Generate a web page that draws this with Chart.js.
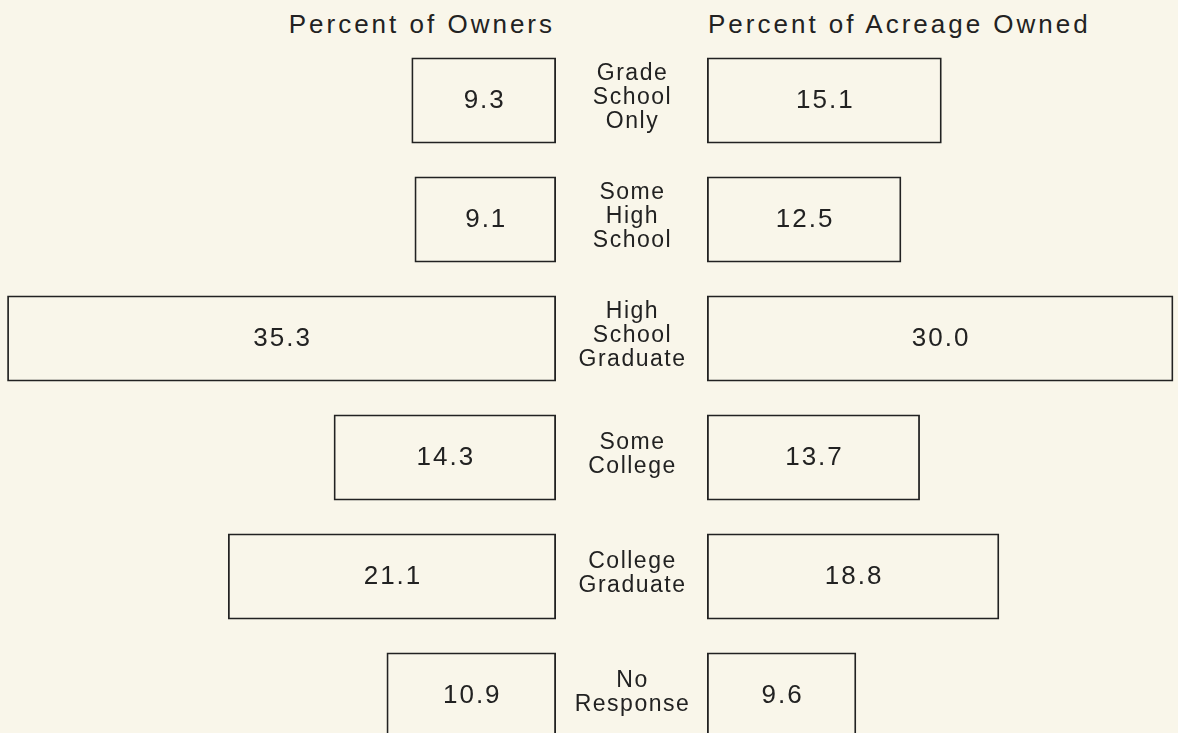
<!DOCTYPE html>
<html>
<head>
<meta charset="utf-8">
<script src="https://cdn.jsdelivr.net/npm/chart.js@4/dist/chart.umd.min.js"></script>
<style>
    html, body { margin: 0; padding: 0; background: #f9f6ea; overflow: hidden; }
    #wrap { position: relative; width: 1178px; height: 733px; font-family: 'Liberation Sans', sans-serif; color: #222; }
    .head { position: absolute; top: 8px; font-size: 26px; line-height: 32px; white-space: nowrap; letter-spacing: 3px; }
    #leftBox { position: absolute; left: 0; top: 0; width: 556px; height: 760px; }
    #rightBox { position: absolute; left: 556px; top: 0; width: 622px; height: 760px; }
</style>
</head>
<body>
<div id="wrap">
    <div class="head" style="right:623px">Percent of Owners</div>
    <div class="head" style="left:708px">Percent of Acreage Owned</div>
    <div id="leftBox"><canvas id="ownersChart"></canvas></div>
    <div id="rightBox"><canvas id="acreageChart"></canvas></div>
</div>
<script>
const categories = [
    ['Grade', 'School', 'Only'],
    ['Some', 'High', 'School'],
    ['High', 'School', 'Graduate'],
    ['Some', 'College'],
    ['College', 'Graduate'],
    ['No', 'Response']
];
const ownersPct = [9.3, 9.1, 35.3, 14.3, 21.1, 10.9];
const acreagePct = [15.1, 12.5, 30.0, 13.7, 18.8, 9.6];

const INK = '#222';
const FONT = "'Liberation Sans', sans-serif";

// writes the value in the middle of each box
const valueLabels = {
    id: 'valueLabels',
    afterDatasetsDraw(chart) {
        const ctx = chart.ctx;
        const meta = chart.getDatasetMeta(0);
        const data = chart.data.datasets[0].data;
        ctx.save();
        ctx.fillStyle = INK;
        ctx.font = '26px ' + FONT;
        ctx.letterSpacing = '2px';
        ctx.textAlign = 'center';
        ctx.textBaseline = 'middle';
        meta.data.forEach((bar, i) => {
            const p = bar.getProps(['x', 'y', 'base'], true);
            ctx.fillText(data[i].toFixed(1), (p.x + p.base) / 2 + 1, p.y);
        });
        ctx.restore();
    }
};

// category names between the two sets of boxes
const middleLabels = {
    id: 'middleLabels',
    afterDatasetsDraw(chart) {
        const ctx = chart.ctx;
        const y = chart.scales.y;
        const cx = chart.chartArea.left / 2 + 1;
        const lh = 24;
        ctx.save();
        ctx.fillStyle = INK;
        ctx.font = '23px ' + FONT;
        ctx.letterSpacing = '1.5px';
        ctx.textAlign = 'center';
        ctx.textBaseline = 'middle';
        categories.forEach((lines, i) => {
            const mid = y.getPixelForValue(i) - 3;
            const top = mid - (lines.length - 1) * lh / 2;
            lines.forEach((t, j) => ctx.fillText(t, cx, top + j * lh));
        });
        ctx.restore();
    }
};

function barOptions(reverse, max, yWidth) {
    return {
        indexAxis: 'y',
        responsive: true,
        maintainAspectRatio: false,
        animation: false,
        layout: { padding: { top: 41, bottom: 5 } },
        scales: {
            x: { min: 0, max: max, reverse: reverse, display: false },
            y: {
                display: yWidth > 0,
                grid: { display: false },
                border: { display: false },
                ticks: { display: false },
                afterFit(scale) { scale.width = yWidth; }
            }
        },
        plugins: { legend: { display: false }, tooltip: { enabled: false } }
    };
}

function dataset(values) {
    return {
        labels: categories,
        datasets: [{
            data: values,
            backgroundColor: 'rgba(0,0,0,0)',
            borderColor: INK,
            borderWidth: 1.8,
            borderSkipped: false,
            barPercentage: 0.9,
            categoryPercentage: 0.805
        }]
    };
}

new Chart(document.getElementById('ownersChart'), {
    type: 'bar',
    data: dataset(ownersPct),
    options: barOptions(true, 35.76, 0),
    plugins: [valueLabels]
});

new Chart(document.getElementById('acreageChart'), {
    type: 'bar',
    data: dataset(acreagePct),
    options: barOptions(false, 30.3, 151),
    plugins: [valueLabels, middleLabels]
});
</script>
</body>
</html>
